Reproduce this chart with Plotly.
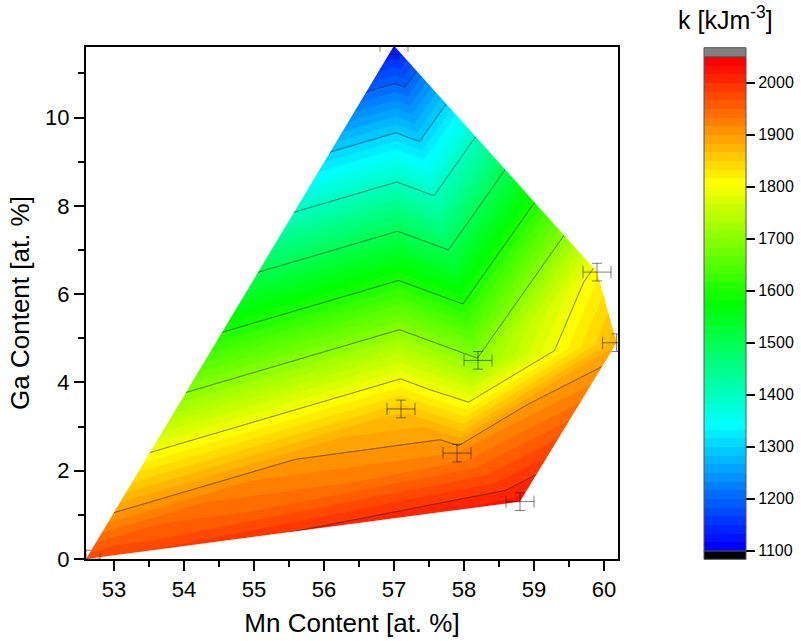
import numpy as np
import plotly.graph_objects as go
from plotly.colors import sample_colorscale

# Sample compositions (at. %) and anisotropy constant k (kJ m^-3)
mn_content = [52.60, 57.00, 59.90, 60.18, 58.20, 57.10, 57.90, 58.80]
ga_content = [0.00, 11.63, 6.50, 4.90, 4.50, 3.40, 2.40, 1.30]
k_values = [1977, 1123, 1812, 1878, 1704, 1861, 1917, 2025]
mn_error = [0.2, 0.2, 0.2, 0.2, 0.2, 0.2, 0.2, 0.2]
ga_error = [0.2, 0.2, 0.2, 0.2, 0.2, 0.2, 0.2, 0.2]

# Triangulation of the sample points (indices into the lists above)
triangles = [(0, 1, 5), (1, 5, 4), (1, 4, 2), (4, 3, 2), (4, 6, 3),
             (6, 7, 3), (0, 6, 7), (0, 5, 6), (5, 6, 4)]
# Convex hull, counter-clockwise, closed
hull_order = [0, 7, 3, 2, 1, 0]

colorbar_ticks = [1100, 1200, 1300, 1400, 1500, 1600, 1700, 1800, 1900, 2000]
k_min, k_max = 1100, 2050
fill_step = 100 / 6
line_step = 100

x_range = [52.6, 60.2]
y_range = [0.0, 11.6]

# Piecewise-linear surface over the triangulation, sampled on a fine grid.
# Points outside the hull take the plane of the nearest triangle; the
# outside is covered afterwards by a white mask.
gx = np.linspace(x_range[0], x_range[1], 509)
gy = np.linspace(y_range[0], y_range[1], 465)
GX, GY = np.meshgrid(gx, gy)
GZ = np.zeros(GX.shape)
best = np.full(GX.shape, -np.inf)
px = np.array(mn_content)
py = np.array(ga_content)
pk = np.array(k_values, dtype=float)
for a, b, c in triangles:
    x1, y1, x2, y2, x3, y3 = px[a], py[a], px[b], py[b], px[c], py[c]
    det = (y2 - y3) * (x1 - x3) + (x3 - x2) * (y1 - y3)
    l1 = ((y2 - y3) * (GX - x3) + (x3 - x2) * (GY - y3)) / det
    l2 = ((y3 - y1) * (GX - x3) + (x1 - x3) * (GY - y3)) / det
    l3 = 1 - l1 - l2
    score = np.minimum(np.minimum(l1, l2), l3)
    take = score > best
    GZ[take] = (l1 * pk[a] + l2 * pk[b] + l3 * pk[c])[take]
    best[take] = score[take]

z_list = np.round(GZ, 2).tolist()
gx_list = [round(float(v), 5) for v in gx]
gy_list = [round(float(v), 5) for v in gy]

rainbow = [[0.0, "rgb(0,0,255)"], [0.25, "rgb(0,255,255)"], [0.5, "rgb(0,255,0)"],
           [0.75, "rgb(255,255,0)"], [1.0, "rgb(255,0,0)"]]

# stepped version of the palette for the colour bar: one flat colour per band
n_bands = int(round((k_max - k_min) / fill_step))
band_colors = sample_colorscale(rainbow, [i / (n_bands - 1) for i in range(n_bands)])
stepped = []
for i, col in enumerate(band_colors):
    stepped += [[i / n_bands, col], [(i + 1) / n_bands, col]]

# plot-area geometry in pixels
W, H = 801, 641
L, R, T, B = 86, 618, 47, 559
pw, ph = R - L, B - T
cb_left, cb_right = 704, 746
cb_top, cb_bottom = 56.7, 550.7
grey_top, black_bottom = 47.7, 559.3


def fx(p):
    return (p - L) / pw


def fy(p):
    return (B - p) / ph


fig = go.Figure()

fig.add_trace(go.Contour(
    x=gx_list, y=gy_list, z=z_list,
    colorscale=rainbow,
    contours=dict(coloring="fill", start=k_min + fill_step,
                  end=k_max - fill_step + 0.01, size=fill_step, showlines=False),
    line=dict(width=0, smoothing=0),
    showscale=False,
    hoverinfo="skip",
))

fig.add_trace(go.Contour(
    x=gx_list, y=gy_list, z=z_list,
    contours=dict(coloring="none", start=k_min + line_step, end=2000,
                  size=line_step),
    line=dict(width=0.8, color="rgba(30,30,30,0.8)", smoothing=0),
    showscale=False,
    hoverinfo="skip",
))

# white mask: plot rectangle with the hull cut out (keyhole polygon)
mx0, mx1 = x_range[0] - 1, x_range[1] + 1
my0, my1 = y_range[0] - 1, y_range[1] + 1
mask_x = [mx0, mx0, mx1, mx1, mx0] + [mn_content[i] for i in hull_order] + [mx0]
mask_y = [my0, my1, my1, my0, my0] + [ga_content[i] for i in hull_order] + [my0]
fig.add_trace(go.Scatter(
    x=mask_x, y=mask_y, mode="lines", fill="toself", fillcolor="white",
    line=dict(width=0, color="white"), hoverinfo="skip",
))

# sample points: error bars only; the invisible markers carry the colour bar
fig.add_trace(go.Scatter(
    x=mn_content, y=ga_content, mode="markers",
    marker=dict(size=4, opacity=0, color=k_values, colorscale=stepped,
                cmin=k_min, cmax=k_max, showscale=True,
                colorbar=dict(
                    thickness=cb_right - cb_left, thicknessmode="pixels",
                    len=cb_bottom - cb_top, lenmode="pixels",
                    x=fx(cb_left), xanchor="left", xpad=0,
                    y=fy(cb_bottom), yanchor="bottom", ypad=0,
                    outlinewidth=1, outlinecolor="#555555",
                    tickvals=colorbar_ticks, ticks="outside", ticklen=9,
                    tickwidth=1.5, tickcolor="black",
                    tickfont=dict(size=16, color="black"),
                )),
    error_x=dict(type="data", array=mn_error, visible=True,
                 color="rgba(0,0,0,0.5)", thickness=1, width=6),
    error_y=dict(type="data", array=ga_error, visible=True,
                 color="rgba(0,0,0,0.5)", thickness=1, width=5),
    hoverinfo="skip",
))

# out-of-range swatches at the ends of the colour bar
fig.add_shape(type="rect", xref="paper", yref="paper",
              x0=fx(cb_left), x1=fx(cb_right), y0=fy(cb_top), y1=fy(grey_top),
              fillcolor="rgb(128,128,128)", line=dict(color="#555555", width=1))
fig.add_shape(type="rect", xref="paper", yref="paper",
              x0=fx(cb_left), x1=fx(cb_right), y0=fy(black_bottom), y1=fy(cb_bottom),
              fillcolor="black", line=dict(color="#555555", width=1))

fig.add_annotation(text="k [kJm<sup>-3</sup>]", xref="paper", yref="paper",
                   x=fx((cb_left + cb_right) / 2), y=fy(36), xanchor="center",
                   yanchor="bottom", showarrow=False, font=dict(size=25, color="black"))

axis_common = dict(
    showline=True, linewidth=2, linecolor="black", mirror=True,
    ticks="outside", ticklen=10, tickwidth=2, tickcolor="black",
    showgrid=False, zeroline=False,
    tickfont=dict(size=22, color="black"),
)

fig.update_xaxes(range=x_range, tick0=53, dtick=1,
                 minor=dict(dtick=0.5, ticks="outside", ticklen=6, tickwidth=2,
                            tickcolor="black", showgrid=False),
                 title=dict(text="Mn Content [at. %]", font=dict(size=26), standoff=12),
                 **axis_common)
fig.update_yaxes(range=y_range, tick0=0, dtick=2,
                 minor=dict(dtick=1, ticks="outside", ticklen=6, tickwidth=2,
                            tickcolor="black", showgrid=False),
                 title=dict(text="Ga Content [at. %]", font=dict(size=26), standoff=8),
                 **axis_common)

fig.update_layout(
    width=W, height=H,
    margin=dict(l=L, r=W - R, t=T, b=H - B, autoexpand=False),
    plot_bgcolor="white", paper_bgcolor="white",
    font=dict(family="Liberation Sans, Arial, sans-serif", color="black"),
    showlegend=False,
)

fig.write_html("out.html")
